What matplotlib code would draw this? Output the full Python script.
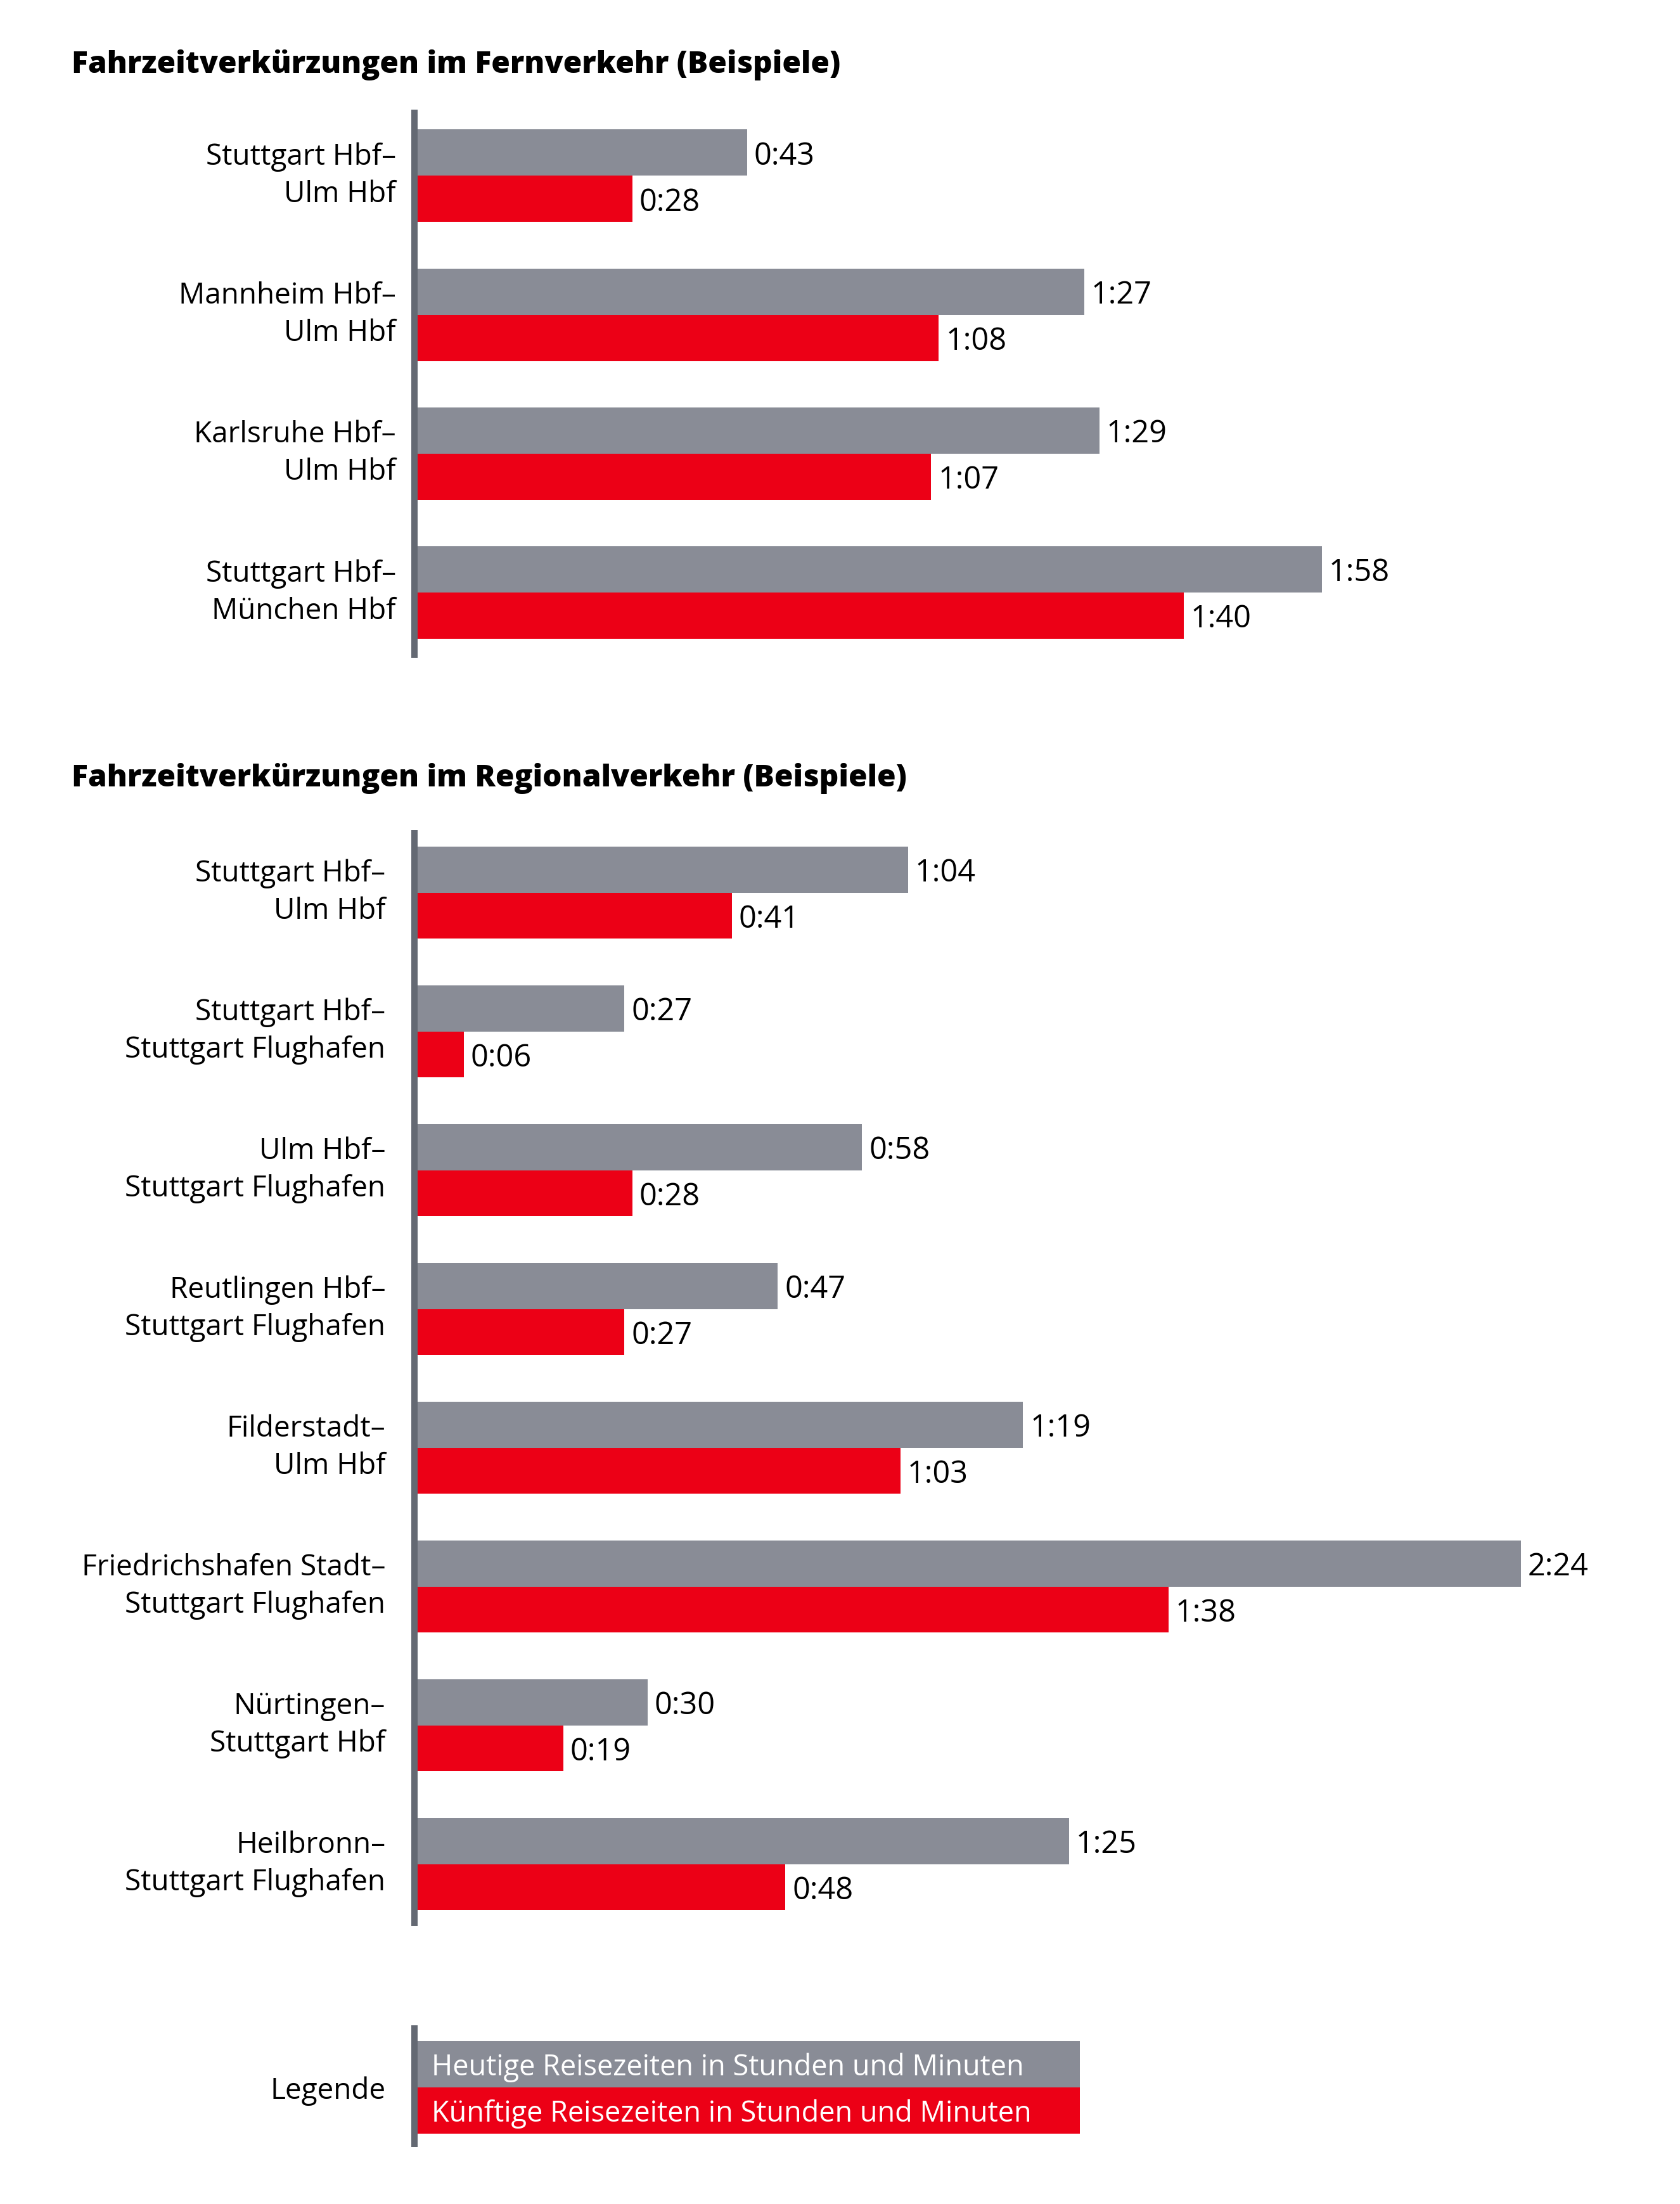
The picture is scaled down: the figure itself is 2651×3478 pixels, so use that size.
#!/usr/bin/env python3
"""Fahrzeitverkürzungen Fern- und Regionalverkehr als gruppierte Balken (heute / künftig)."""

import numpy as np
import matplotlib

matplotlib.use("Agg")
import matplotlib.pyplot as plt

# --- Daten (Minuten) ---------------------------------------------------------
FERN_ROUTES = [
    "Stuttgart Hbf–\nUlm Hbf",
    "Mannheim Hbf–\nUlm Hbf",
    "Karlsruhe Hbf–\nUlm Hbf",
    "Stuttgart Hbf–\nMünchen Hbf",
]
FERN_HEUTE = [43, 87, 89, 118]
FERN_KUENFTIG = [28, 68, 67, 100]

REGIO_ROUTES = [
    "Stuttgart Hbf–\nUlm Hbf",
    "Stuttgart Hbf–\nStuttgart Flughafen",
    "Ulm Hbf–\nStuttgart Flughafen",
    "Reutlingen Hbf–\nStuttgart Flughafen",
    "Filderstadt–\nUlm Hbf",
    "Friedrichshafen Stadt–\nStuttgart Flughafen",
    "Nürtingen–\nStuttgart Hbf",
    "Heilbronn–\nStuttgart Flughafen",
]
REGIO_HEUTE = [64, 27, 58, 47, 79, 144, 30, 85]
REGIO_KUENFTIG = [41, 6, 28, 27, 63, 98, 19, 48]

TITLE_FERN = "Fahrzeitverkürzungen im Fernverkehr (Beispiele)"
TITLE_REGIO = "Fahrzeitverkürzungen im Regionalverkehr (Beispiele)"
LEGEND_HEUTE = "Heutige Reisezeiten in Stunden und Minuten"
LEGEND_KUENFTIG = "Künftige Reisezeiten in Stunden und Minuten"

# --- Stil --------------------------------------------------------------------
GREY = "#898c96"
RED = "#ec0016"
LINE = "#646973"
BAR_H = 0.333
LABEL_SIZE = 33
VALUE_SIZE = 35
TITLE_SIZE = 34.5

W, H = 2651, 3478
CAP = 5  # projecting cap of the spine in px

plt.rcParams["font.family"] = ["Open Sans", "DejaVu Sans"]


def hm(minutes: int) -> str:
    return f"{minutes // 60}:{minutes % 60:02d}"


def px_axes(fig, x0, y0, x1, y1):
    return fig.add_axes([x0 / W, 1 - y1 / H, (x1 - x0) / W, (y1 - y0) / H])


def style_axis(ax, label_pad, va="center"):
    ax.set_xticks([])
    for side in ("top", "right", "bottom"):
        ax.spines[side].set_visible(False)
    sp = ax.spines["left"]
    sp.set_position(("outward", 3.6))
    sp.set_linewidth(7.2)
    sp.set_color(LINE)
    ax.tick_params(axis="y", length=0, pad=label_pad, labelsize=LABEL_SIZE)
    ax.patch.set_alpha(0)
    for t in ax.get_yticklabels():
        t.set_linespacing(1.36)
        t.set_multialignment("right")
        t.set_verticalalignment(va)


def panel(ax, routes, heute, kuenftig, ylim, label_pad):
    y = np.arange(len(routes))
    b1 = ax.barh(y - BAR_H / 2, heute, height=BAR_H, color=GREY, linewidth=0)
    b2 = ax.barh(y + BAR_H / 2, kuenftig, height=BAR_H, color=RED, linewidth=0)
    texts = ax.bar_label(b1, labels=[hm(m) for m in heute], padding=8, fontsize=VALUE_SIZE)
    texts += ax.bar_label(b2, labels=[hm(m) for m in kuenftig], padding=8, fontsize=VALUE_SIZE)
    for t in texts:
        t.set_verticalalignment("center_baseline")
    ax.set_xlim(0, 160)
    ax.set_ylim(*ylim)
    ax.set_yticks(y, routes)
    style_axis(ax, label_pad)


fig = plt.figure(figsize=(W / 100, H / 100), dpi=100)

x_left = 659
x_right = x_left + 160 * 12.09

fig.text(113 / W, 1 - 115 / H, TITLE_FERN, fontsize=TITLE_SIZE, fontweight=800, va="baseline")
ax1 = px_axes(fig, x_left, 173 + CAP, x_right, 1038 - CAP)
panel(ax1, FERN_ROUTES, FERN_HEUTE, FERN_KUENFTIG, (3.47 - CAP / 219, -0.476 + CAP / 219), 20.9)

fig.text(113 / W, 1 - 1241 / H, TITLE_REGIO, fontsize=TITLE_SIZE, fontweight=800, va="baseline")
ax2 = px_axes(fig, x_left, 1310 + CAP, x_right, 3039 - CAP)
panel(ax2, REGIO_ROUTES, REGIO_HEUTE, REGIO_KUENFTIG, (7.445 - CAP / 219, -0.45 + CAP / 219), 33)

# Legende
ax3 = px_axes(fig, x_left, 3196 + CAP, 1704, 3388 - CAP)
ax3.barh([-BAR_H / 2], [1], height=BAR_H, color=GREY, linewidth=0)
ax3.barh([BAR_H / 2], [1], height=BAR_H, color=RED, linewidth=0)
ax3.text(22 / 1045, -BAR_H / 2, LEGEND_HEUTE, color="white", fontsize=LABEL_SIZE - 0.5,
         va="center_baseline")
ax3.text(22 / 1045, BAR_H / 2, LEGEND_KUENFTIG, color="white", fontsize=LABEL_SIZE - 0.5,
         va="center_baseline")
ax3.set_xlim(0, 1)
ax3.set_ylim(0.429 - CAP / 219, -0.447 + CAP / 219)
ax3.set_yticks([0], ["Legende"])
style_axis(ax3, 33, va="center_baseline")

fig.savefig("out.png", dpi=100)
plt.close(fig)
